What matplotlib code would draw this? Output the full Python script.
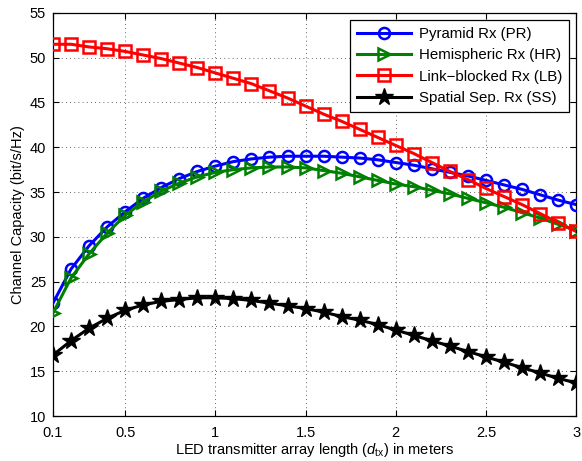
import matplotlib
matplotlib.use("Agg")
import matplotlib.pyplot as plt
import numpy as np

plt.rcParams['font.family'] = ['Liberation Sans', 'DejaVu Sans']
plt.rcParams['mathtext.fontset'] = 'custom'
plt.rcParams['mathtext.rm'] = 'Liberation Sans'
plt.rcParams['mathtext.it'] = 'Liberation Sans:italic'

d_tx = [0.1, 0.2, 0.3, 0.4, 0.5, 0.6, 0.7, 0.8, 0.9, 1.0,
        1.1, 1.2, 1.3, 1.4, 1.5, 1.6, 1.7, 1.8, 1.9, 2.0,
        2.1, 2.2, 2.3, 2.4, 2.5, 2.6, 2.7, 2.8, 2.9, 3.0]

pyramid = [22.6, 26.4, 29.0, 31.1, 32.8, 34.3, 35.5, 36.5, 37.3, 37.9,
           38.4, 38.7, 38.9, 39.0, 39.0, 39.0, 38.9, 38.8, 38.6, 38.3,
           38.0, 37.6, 37.2, 36.8, 36.3, 35.8, 35.3, 34.7, 34.1, 33.6]

hemispheric = [21.5, 25.4, 28.1, 30.4, 32.4, 33.9, 35.1, 36.0, 36.7, 37.2,
               37.5, 37.7, 37.8, 37.8, 37.7, 37.4, 37.1, 36.7, 36.3, 35.9,
               35.6, 35.2, 34.8, 34.3, 33.8, 33.3, 32.7, 32.1, 31.4, 30.7]

link_blocked = [51.5, 51.5, 51.2, 51.0, 50.7, 50.3, 49.9, 49.4, 48.9, 48.3,
                47.7, 47.1, 46.3, 45.5, 44.6, 43.7, 42.9, 42.0, 41.1, 40.2,
                39.3, 38.3, 37.3, 36.4, 35.4, 34.5, 33.6, 32.6, 31.6, 30.6]

spatial_sep = [16.8, 18.4, 19.8, 20.9, 21.8, 22.4, 22.8, 23.0, 23.2, 23.2,
               23.1, 22.9, 22.6, 22.3, 22.0, 21.6, 21.1, 20.7, 20.2, 19.6,
               19.0, 18.4, 17.8, 17.2, 16.6, 16.0, 15.4, 14.8, 14.2, 13.7]

labels = ['Pyramid Rx (PR)', 'Hemispheric Rx (HR)',
          'Link\u2212blocked Rx (LB)', 'Spatial Sep. Rx (SS)']
xticks = [0.1, 0.5, 1, 1.5, 2, 2.5, 3]
xticklabels = ['0.1', '0.5', '1', '1.5', '2', '2.5', '3']
yticks = [10, 15, 20, 25, 30, 35, 40, 45, 50, 55]

fig = plt.figure(figsize=(5.82, 4.61), dpi=100)
ax = fig.add_axes([0.091, 0.0976, 0.899, 0.8744])

green = '#008000'
ax.plot(d_tx, pyramid, color='blue', marker='o', ms=8, mfc='none', mew=1.8,
        lw=2.2, label=labels[0], zorder=3)
ax.plot(d_tx, hemispheric, color=green, marker='>', ms=9, mfc='none', mew=1.8,
        lw=2.2, label=labels[1], zorder=3)
ax.plot(d_tx, link_blocked, color='red', marker='s', ms=8, mfc='none', mew=1.8,
        lw=2.2, label=labels[2], zorder=3)
ax.plot(d_tx, spatial_sep, color='black', marker='*', ms=13, mfc='black',
        lw=2.2, label=labels[3], zorder=3)

ax.set_xlim(0.1, 3)
ax.set_ylim(10, 55)
ax.set_xticks(xticks)
ax.set_xticklabels(xticklabels)
ax.set_yticks(yticks)
ax.tick_params(direction='in', top=True, right=True, labelsize=10.5,
               length=4, width=0.8)
ax.tick_params(axis='x', pad=7)
ax.tick_params(axis='y', pad=5)
ax.grid(True, linestyle=(0, (1, 4)), color='black', lw=0.6, alpha=0.8)
for s in ax.spines.values():
    s.set_linewidth(0.9)

ax.set_xlabel(r'LED transmitter array length ($\mathit{d}_{\mathrm{tx}}$) in meters',
              fontsize=10.5, labelpad=1)
ax.set_ylabel('Channel Capacity (bit/s/Hz)', fontsize=10.5, labelpad=3)

leg = ax.legend(loc='upper right', fontsize=10.8, fancybox=False,
                edgecolor='black', framealpha=1, borderpad=0.45,
                labelspacing=0.48, handlelength=3.6, handletextpad=0.5,
                borderaxespad=0.5)
leg.get_frame().set_linewidth(0.9)

fig.savefig('out.png', dpi=100)
